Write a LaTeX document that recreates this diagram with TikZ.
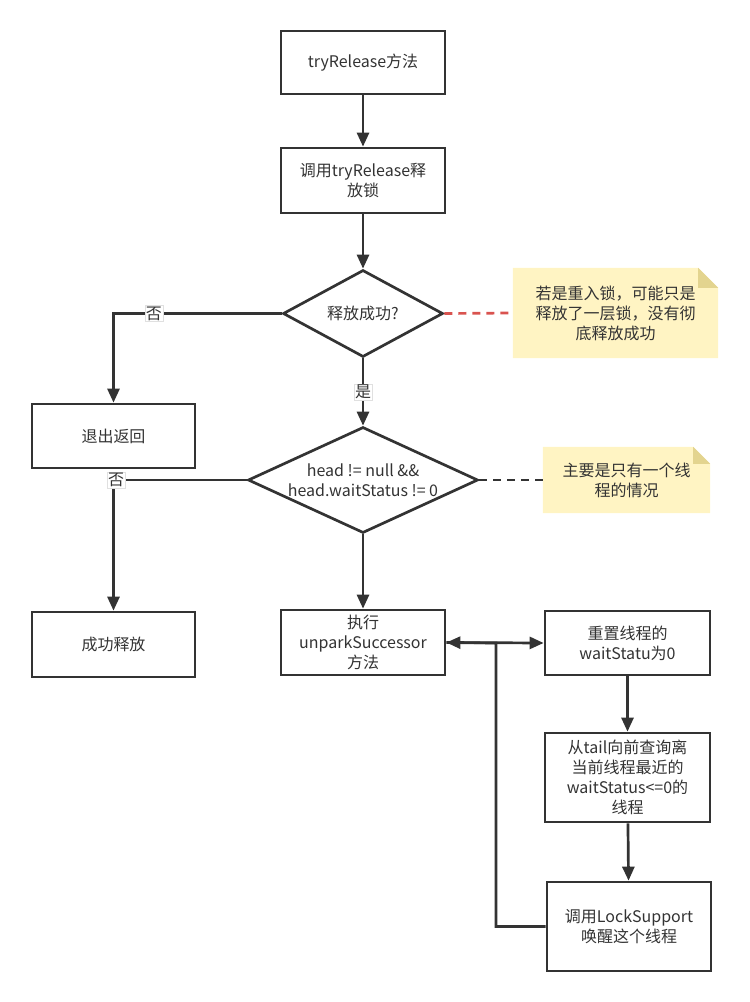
\documentclass[tikz,border=0pt]{standalone}
\usepackage{fontspec}
\setmainfont{Noto Sans CJK SC}
\usetikzlibrary{arrows.meta,shapes.geometric,calc}
\definecolor{ink}{HTML}{333333}
\definecolor{notefill}{HTML}{FFF4C3}
\definecolor{notefold}{HTML}{E3D48F}
\definecolor{redline}{HTML}{D9534F}
\begin{document}
\begin{tikzpicture}[x=1pt,y=-1pt,
  every node/.style={font=\fontsize{16}{20}\selectfont, text=ink},
  box/.style={draw=ink, line width=2.7pt, rectangle, minimum width=164pt, minimum height=65pt, inner sep=2pt, align=center, text width=158pt},
  dia/.style={draw=ink, line width=2.7pt, diamond, inner sep=0pt},
  note/.style={rectangle, inner sep=0pt, align=center},
  arr/.style={draw=ink, line width=2.7pt, -{Triangle[length=14pt,width=12pt]}},
  lbl/.style={fill=white, draw=black!12, line width=0.5pt, inner sep=1pt, font=\fontsize{16}{17}\selectfont},
  dsh/.style={line width=2.7pt, dash pattern=on 8pt off 6pt}
]
\useasboundingbox (0,0) rectangle (750,1002);

% main column
\node[box, minimum height=63pt] (b1) at (363,62.5) {tryRelease方法};
\node[box] (b2) at (363,180.5) {调用tryRelease释\\放锁};
\node[dia, minimum width=160pt, minimum height=87pt] (d1) at (363,313.5) {};
\node at (d1) {释放成功?};
\node[dia, minimum width=230pt, minimum height=106pt] (d2) at (363,480) {};
\node[align=center] at (d2) {head != null \&\&\\head.waitStatus != 0};
\node[box] (ex) at (363,642.5) {执行\\unparkSuccessor\\方法};

% left column
\node[box, minimum width=163pt, minimum height=64pt] (e1) at (113.5,436) {退出返回};
\node[box, minimum width=163pt] (s1) at (113.5,644.5) {成功释放};

% right column
\node[box, minimum width=165pt, minimum height=64pt] (r1) at (627.5,643) {重置线程的\\waitStatu为0};
\node[box, minimum width=165pt, minimum height=89pt] (t1) at (627.5,777.5) {从tail向前查询离\\当前线程最近的\\waitStatus<=0的\\线程};
\node[box, minimum width=164pt, minimum height=89pt] (lk) at (629,926.5) {调用LockSupport\\唤醒这个线程};
\coordinate (j) at (496,643);

% notes
\node[note, minimum width=205pt, minimum height=90pt] (n1) at (615.5,313) {};
\fill[notefill] (n1.north west) -- ($(n1.north east)+(-20,0)$) -- ($(n1.north east)+(0,20)$) -- (n1.south east) -- (n1.south west) -- cycle;
\fill[notefold] ($(n1.north east)+(-20,0)$) -- ($(n1.north east)+(0,20)$) -- ($(n1.north east)+(-20,20)$) -- cycle;
\node[align=center] at (n1) {若是重入锁，可能只是\\释放了一层锁，没有彻\\底释放成功};

\node[note, minimum width=167pt, minimum height=66pt] (n2) at (626.5,480) {};
\fill[notefill] (n2.north west) -- ($(n2.north east)+(-17,0)$) -- ($(n2.north east)+(0,17)$) -- (n2.south east) -- (n2.south west) -- cycle;
\fill[notefold] ($(n2.north east)+(-17,0)$) -- ($(n2.north east)+(0,17)$) -- ($(n2.north east)+(-17,17)$) -- cycle;
\node[align=center] at (n2) {主要是只有一个线\\程的情况};

% connectors
\draw[arr] (b1) -- (b2);
\draw[arr] (b2) -- (d1);
\draw[arr] (d1.west) -| node[lbl, pos=0.38] {否} (e1);
\draw[arr] (d1.south) -- node[lbl] {是} (d2.north);
\draw[arr] (d2.west) -| node[lbl, pos=0.49] {否} (s1);
\draw[arr] (d2.south) -- (ex.north);
\draw[arr] (ex.east) -- (r1.west);
\draw[arr] (lk.west) -| (j) -- (ex.east);
\draw[arr] (r1) -- (t1);
\draw[arr] (t1) -- (lk);
\draw[dsh, draw=redline] (d1.east) -- (n1.west);
\draw[dsh, draw=ink] (d2.east) -- (n2.west);
\end{tikzpicture}
\end{document}
